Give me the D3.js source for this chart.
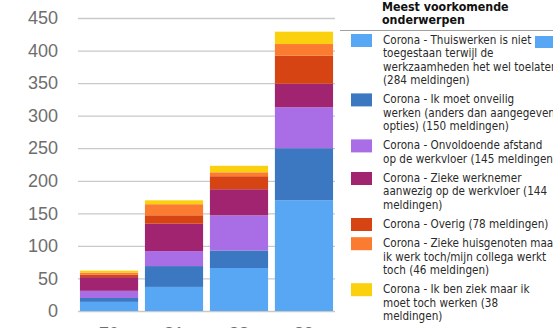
<!DOCTYPE html>
<html>
<head>
<meta charset="utf-8">
<script src="https://cdn.jsdelivr.net/npm/d3@7"></script>
<style>
  html, body { margin: 0; padding: 0; background: #fff; overflow: hidden; }
  #chart { width: 553px; height: 328px; }
  .tick text { font-family: "Liberation Sans", Arial, sans-serif; }
  .legend text { font-family: "DejaVu Sans Condensed", "DejaVu Sans", sans-serif; }
</style>
</head>
<body>
<div id="chart"></div>
<script>
// categories on the x axis (cut off at the bottom of the picture)
var categories = ["70", "81", "88", "89"];

// one array per topic, bottom to top of each stack
var thuiswerken = [14, 37, 66, 170];
var onveilig    = [6, 32, 27, 80];
var afstand     = [11, 23, 54, 63];
var zieke       = [21, 42, 40, 36];
var overig      = [4, 13, 20, 43];
var huisgenoten = [3, 17, 6, 18];
var ziekWerken  = [3, 6, 10, 19];

var seriesNames = ["thuiswerken", "onveilig", "afstand", "zieke", "overig", "huisgenoten", "ziekWerken"];
var seriesColors = ["#57a7f5", "#3c78c1", "#a96de5", "#a0246f", "#d64413", "#fb7b31", "#fbd00e"];

var legendTitle = ["Meest voorkomende", "onderwerpen"];
var legendLabels = [
  ["Corona - Thuiswerken is niet", "toegestaan terwijl de", "werkzaamheden het wel toelaten", "(284 meldingen)"],
  ["Corona - Ik moet onveilig", "werken (anders dan aangegeven", "opties) (150 meldingen)"],
  ["Corona - Onvoldoende afstand", "op de werkvloer (145 meldingen)"],
  ["Corona - Zieke werknemer", "aanwezig op de werkvloer (144", "meldingen)"],
  ["Corona - Overig (78 meldingen)"],
  ["Corona - Zieke huisgenoten maar", "ik werk toch/mijn collega werkt", "toch (46 meldingen)"],
  ["Corona - Ik ben ziek maar ik", "moet toch werken (38", "meldingen)"]
];

var yTicks = [0, 50, 100, 150, 200, 250, 300, 350, 400, 450];

var valuesBySeries = [thuiswerken, onveilig, afstand, zieke, overig, huisgenoten, ziekWerken];
var table = categories.map(function(c, i) {
  var row = { cat: c };
  seriesNames.forEach(function(s, j) { row[s] = valuesBySeries[j][i]; });
  return row;
});

var width = 553, height = 328;
var svg = d3.select("#chart").append("svg")
    .attr("width", width)
    .attr("height", height);

var x = d3.scaleBand()
    .domain(categories)
    .range([78, 335])
    .paddingInner(0.105)
    .paddingOuter(0.03);

var y = d3.scaleLinear()
    .domain([0, 450])
    .range([311, 18]);

// gridlines + y labels
var yAxis = svg.append("g")
    .attr("transform", "translate(78,0)")
    .call(d3.axisLeft(y).tickValues(yTicks).tickSize(-257).tickPadding(20));
yAxis.select(".domain").remove();
yAxis.selectAll(".tick line").attr("stroke", "#c9c9c9").attr("stroke-width", 1.3);
yAxis.selectAll(".tick text")
    .attr("fill", "#6e6e6e")
    .style("font-size", "18px");

var stack = d3.stack().keys(seriesNames);
var layers = stack(table);

svg.append("g").selectAll("g")
  .data(layers)
  .enter().append("g")
    .attr("fill", function(d, i) { return seriesColors[i]; })
  .selectAll("rect")
  .data(function(d) { return d; })
  .enter().append("rect")
    .attr("x", function(d) { return x(d.data.cat); })
    .attr("y", function(d) { return y(d[1]); })
    .attr("width", x.bandwidth())
    .attr("height", function(d) { return y(d[0]) - y(d[1]); });

// x labels, mostly below the visible area
var xAxis = svg.append("g")
    .attr("transform", "translate(0,311)")
    .call(d3.axisBottom(x).tickSize(0).tickPadding(16));
xAxis.select(".domain").remove();
xAxis.selectAll(".tick text")
    .attr("fill", "#6e6e6e")
    .style("font-size", "18px");

// legend
var legend = svg.append("g").attr("class", "legend");

legend.selectAll("text.title")
  .data(legendTitle)
  .enter().append("text")
    .attr("class", "title")
    .attr("x", 382)
    .attr("y", function(d, i) { return 11 + i * 13; })
    .attr("font-size", "12.3px")
    .attr("font-weight", "bold")
    .attr("fill", "#111")
    .text(function(d) { return d; });

legend.append("line")
    .attr("x1", 340).attr("x2", width)
    .attr("y1", 30.5).attr("y2", 30.5)
    .attr("stroke", "#a0a0a0");

var lineH = 13.4, gap = 5.8;
var itemTop = 40;
legendLabels.forEach(function(lines, i) {
  var item = legend.append("g").attr("transform", "translate(0," + itemTop + ")");
  item.append("rect")
      .attr("x", 351).attr("y", -6)
      .attr("width", 21).attr("height", 13)
      .attr("fill", seriesColors[i]);
  item.selectAll("text")
    .data(lines)
    .enter().append("text")
      .attr("x", 383)
      .attr("y", function(d, k) { return k * lineH + 4; })
      .attr("font-size", "11.6px")
      .attr("fill", "#2a2a2a")
      .text(function(d) { return d; });
  itemTop += lines.length * lineH + gap;
});

// start of the next legend column, clipped by the window
legend.append("rect")
    .attr("x", 535).attr("y", 36)
    .attr("width", 21).attr("height", 12)
    .attr("fill", seriesColors[0]);
</script>
</body>
</html>
